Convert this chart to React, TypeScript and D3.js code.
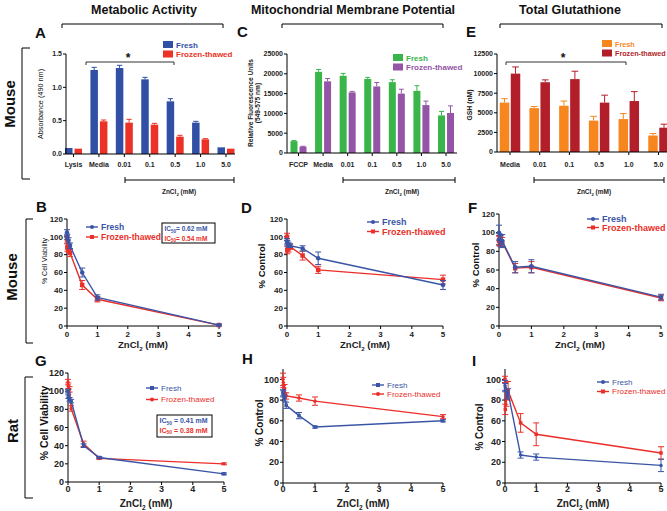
import React from 'react';
import * as d3 from 'd3';

const FONT = "'Liberation Sans', Arial, Helvetica, sans-serif";

// ---------- Row 1 bar data ----------
const aCategories = ['Lysis', 'Media', '0.01', '0.1', '0.5', '1.0', '5.0'];
const aFresh = [0.09, 1.26, 1.29, 1.12, 0.79, 0.47, 0.1];
const aFreshErr = [0, 0.04, 0.04, 0.03, 0.04, 0.02, 0];
const aFrozen = [0.08, 0.49, 0.47, 0.44, 0.26, 0.22, 0.08];
const aFrozenErr = [0, 0.02, 0.05, 0.02, 0.02, 0.01, 0];
const aTicks = [0, 0.5, 1.0, 1.5];

const cCategories = ['FCCP', 'Media', '0.01', '0.1', '0.5', '1.0', '5.0'];
const cFresh = [3000, 20500, 19500, 18700, 17900, 15700, 9500];
const cFreshErr = [150, 600, 600, 400, 600, 1300, 1000];
const cFrozen = [1600, 18100, 15300, 16800, 15000, 12100, 10100];
const cFrozenErr = [100, 700, 250, 1000, 1100, 1000, 1800];
const cTicks = [0, 5000, 10000, 15000, 20000, 25000];

const eCategories = ['Media', '0.01', '0.1', '0.5', '1.0', '5.0'];
const eFresh = [6300, 5600, 5900, 4000, 4200, 2100];
const eFreshErr = [500, 200, 600, 550, 700, 250];
const eFrozen = [10000, 8900, 9300, 6300, 6500, 3100];
const eFrozenErr = [850, 300, 1000, 950, 1200, 450];
const eTicks = [0, 2500, 5000, 7500, 10000, 12500];

// ---------- Dose-response data ----------
const doses = [0, 0.01, 0.05, 0.1, 0.5, 1, 5];
const xTicks = [0, 1, 2, 3, 4, 5];
const yTicks120 = [0, 20, 40, 60, 80, 100, 120];
const yTicks100 = [0, 20, 40, 60, 80, 100];

const bFresh = [105, 100, 96, 90, 60, 32, 1];
const bFreshErr = [3, 3, 3, 3, 5, 3, 1];
const bFrozen = [97, 88, 86, 82, 46, 30, 1];
const bFrozenErr = [4, 4, 4, 4, 5, 3, 1];

const dFresh = [95, 93, 91, 90, 87, 76, 46];
const dFreshErr = [3, 3, 3, 2, 3, 7, 5];
const dFrozen = [100, 85, 87, 89, 79, 63, 52];
const dFrozenErr = [4, 4, 4, 3, 5, 4, 5];

const fFresh = [100, 93, 91, 91, 63, 64, 31];
const fFreshErr = [8, 6, 6, 7, 6, 7, 3];
const fFrozen = [92, 91, 90, 90, 62, 63, 30];
const fFrozenErr = [5, 5, 5, 5, 5, 6, 3];

const gFresh = [100, 94, 91, 89, 40, 27, 9];
const gFreshErr = [2, 2, 2, 2, 2, 1, 1];
const gFrozen = [110, 106, 102, 81, 42, 26, 20];
const gFrozenErr = [3, 3, 3, 3, 3, 1, 1];

const hFresh = [87, 86, 82, 75, 65, 54, 60];
const hFreshErr = [3, 3, 3, 3, 3, 1, 1];
const hFrozen = [100, 97, 91, 84, 82, 79, 64];
const hFrozenErr = [6, 5, 4, 3, 3, 4, 2];

const iFresh = [94, 92, 85, 87, 27, 25, 17];
const iFreshErr = [5, 4, 4, 4, 3, 3, 6];
const iFrozen = [100, 71, 82, 89, 58, 47, 29];
const iFrozenErr = [3, 5, 8, 9, 9, 11, 6];

const seriesNames = ['Fresh', 'Frozen-thawed'];

const BLUE = '#3150A5';
const RED = '#EC3226';
const GREEN = '#3AB54A';
const PURPLE = '#9455A6';
const ORANGE = '#F7861F';
const DARKRED = '#B21F2A';
const LBLUE = '#3A55A6';
const LRED = '#EA2F2A';

type BarSeries = { values: number[]; errors: number[]; color: string };

function BarPanel(props: {
  cats: string[];
  series: BarSeries[];
  centers: [number, number];
  axis: [number, number];
  yPx: [number, number];
  yMax: number;
  ticks: number[];
  fmt: (v: number) => string;
  barW: number;
  gap: number;
  labelY: number;
}) {
  const { cats, series, centers, axis, yPx, yMax, ticks, fmt, barW, gap, labelY } = props;
  const x = d3.scalePoint<string>().domain(cats).range(centers);
  const y = d3.scaleLinear().domain([0, yMax]).range(yPx);
  return (
    <g>
      {cats.map((c, i) => (
        <g key={c}>
          {series.map((s, j) => {
            const cx = x(c)!;
            const bx = j === 0 ? cx - gap / 2 - barW : cx + gap / 2;
            const v = s.values[i];
            const e = s.errors[i];
            const mid = bx + barW / 2;
            return (
              <g key={j}>
                {e > 0 && (
                  <g stroke={s.color} strokeWidth={1}>
                    <line x1={mid} x2={mid} y1={y(v)} y2={y(v + e)} />
                    <line x1={mid - barW * 0.35} x2={mid + barW * 0.35} y1={y(v + e)} y2={y(v + e)} />
                  </g>
                )}
                <rect x={bx} y={y(v)} width={barW} height={y(0) - y(v)} fill={s.color} />
              </g>
            );
          })}
        </g>
      ))}
      <g stroke="#000" strokeWidth={1}>
        <line x1={axis[0]} x2={axis[0]} y1={y(0)} y2={y(yMax)} />
        <line x1={axis[0]} x2={axis[1]} y1={y(0)} y2={y(0)} />
        {ticks.map((t) => (
          <line key={t} x1={axis[0] - 3} x2={axis[0]} y1={y(t)} y2={y(t)} />
        ))}
        {cats.map((c) => (
          <line key={c} x1={x(c)!} x2={x(c)!} y1={y(0)} y2={y(0) + 3} />
        ))}
      </g>
      <g fontSize={7} fontWeight="bold" fill="#222">
        {ticks.map((t) => (
          <text key={t} x={axis[0] - 4} y={y(t)} dy="0.35em" textAnchor="end">
            {fmt(t)}
          </text>
        ))}
        {cats.map((c) => (
          <text key={c} x={x(c)!} y={labelY} textAnchor="middle">
            {c}
          </text>
        ))}
      </g>
    </g>
  );
}

type LineSeries = { values: number[]; errors: number[]; color: string; marker: 'circle' | 'square'; size: number };

function Marker({ shape, x, y, size, color }: { shape: string; x: number; y: number; size: number; color: string }) {
  if (shape === 'square') return <rect x={x - size / 2} y={y - size / 2} width={size} height={size} fill={color} />;
  return <circle cx={x} cy={y} r={size / 2} fill={color} />;
}

function LinePanel(props: {
  xr: [number, number];
  yr: [number, number];
  yMax: number;
  yTicks: number[];
  series: LineSeries[];
  tickFont: number;
  labelY: number;
}) {
  const { xr, yr, yMax, yTicks, series, tickFont, labelY } = props;
  const x = d3.scaleLinear().domain([0, 5]).range(xr);
  const y = d3.scaleLinear().domain([0, yMax]).range(yr);
  const line = d3
    .line<number>()
    .x((_d, i) => x(doses[i]))
    .y((d) => y(d));
  return (
    <g>
      <g stroke="#000" strokeWidth={1}>
        <line x1={xr[0]} x2={xr[0]} y1={y(0)} y2={y(yMax)} />
        <line x1={xr[0]} x2={xr[1]} y1={y(0)} y2={y(0)} />
        {yTicks.map((t) => (
          <line key={t} x1={xr[0] - 3} x2={xr[0]} y1={y(t)} y2={y(t)} />
        ))}
        {xTicks.map((t) => (
          <line key={t} x1={x(t)} x2={x(t)} y1={y(0)} y2={y(0) + 3} />
        ))}
      </g>
      {series.map((s, k) => (
        <g key={k}>
          <path d={line(s.values) || ''} fill="none" stroke={s.color} strokeWidth={1.4} />
          {s.values.map((v, i) => {
            const cx = x(doses[i]);
            const e = s.errors[i];
            return (
              <g key={i}>
                <g stroke={s.color} strokeWidth={1}>
                  <line x1={cx} x2={cx} y1={y(v - e)} y2={y(v + e)} />
                  <line x1={cx - 3} x2={cx + 3} y1={y(v + e)} y2={y(v + e)} />
                  <line x1={cx - 3} x2={cx + 3} y1={y(v - e)} y2={y(v - e)} />
                </g>
                <Marker shape={s.marker} x={cx} y={y(v)} size={s.size} color={s.color} />
              </g>
            );
          })}
        </g>
      ))}
      <g fontSize={tickFont} fontWeight="bold" fill="#222">
        {yTicks.map((t) => (
          <text key={t} x={xr[0] - 4} y={y(t)} dy="0.35em" textAnchor="end">
            {t}
          </text>
        ))}
        {xTicks.map((t) => (
          <text key={t} x={x(t)} y={labelY} textAnchor="middle">
            {t}
          </text>
        ))}
      </g>
    </g>
  );
}

function SquareLegend({ x, y, colors, fontSize }: { x: number; y: number; colors: string[]; fontSize: number }) {
  return (
    <g>
      {seriesNames.map((n, i) => (
        <g key={n}>
          <rect x={x} y={y + i * 9.5} width={10} height={7} fill={colors[i]} />
          <text x={x + 13} y={y + i * 9.5 + 6.5} fontSize={fontSize} fontWeight="bold" fill={colors[i]}>
            {n}
          </text>
        </g>
      ))}
    </g>
  );
}

function LineLegend(props: {
  x: number;
  y: number;
  gapY: number;
  colors: string[];
  markers: string[];
  fontSize: number;
  weight: string;
}) {
  const { x, y, gapY, colors, markers, fontSize, weight } = props;
  return (
    <g>
      {seriesNames.map((n, i) => (
        <g key={n}>
          <line x1={x} x2={x + 12} y1={y + i * gapY} y2={y + i * gapY} stroke={colors[i]} strokeWidth={1.4} />
          <Marker shape={markers[i]} x={x + 6} y={y + i * gapY} size={4} color={colors[i]} />
          <text x={x + 15} y={y + i * gapY} dy="0.35em" fontSize={fontSize} fontWeight={weight} fill={colors[i]}>
            {n}
          </text>
        </g>
      ))}
    </g>
  );
}

function ZnLabel({ x, y, fontSize }: { x: number; y: number; fontSize: number }) {
  return (
    <text x={x} y={y} textAnchor="middle" fontSize={fontSize} fontWeight="bold" fill="#222">
      ZnCl
      <tspan dy={fontSize * 0.3} fontSize={fontSize * 0.65}>
        2
      </tspan>
      <tspan dy={-fontSize * 0.3}> (mM)</tspan>
    </text>
  );
}

function ZnBracket({ x0, x1, y, labelX }: { x0: number; x1: number; y: number; labelX: number }) {
  return (
    <g>
      <g stroke="#000" strokeWidth={1}>
        <line x1={x0} x2={x1} y1={y} y2={y} />
        <line x1={x0} x2={x0} y1={y - 3} y2={y + 3} />
        <line x1={x1} x2={x1} y1={y - 3} y2={y + 3} />
      </g>
      <ZnLabel x={labelX} y={y + 14} fontSize={6.5} />
    </g>
  );
}

function SigBracket({ x0, x1, y, sx }: { x0: number; x1: number; y: number; sx: number }) {
  return (
    <g>
      <path d={`M${x0},${y + 3}V${y}H${x1}V${y + 3}`} fill="none" stroke="#333" strokeWidth={1} />
      <text x={sx} y={y - 0.5} textAnchor="middle" fontSize={12} fontWeight="bold" fill="#111">
        *
      </text>
    </g>
  );
}

function IC50Box(props: { x: number; y: number; w: number; h: number; lines: [string, string][]; fontSize: number }) {
  const { x, y, w, h, lines, fontSize } = props;
  return (
    <g>
      <rect x={x} y={y} width={w} height={h} fill="none" stroke="#000" strokeWidth={1} />
      {lines.map(([val, color], i) => (
        <text key={i} x={x + 2.5} y={y + 8 + i * 9.5} fontSize={fontSize} fontWeight="bold" fill={color}>
          IC
          <tspan dy={1.8} fontSize={fontSize * 0.7}>
            50
          </tspan>
          <tspan dy={-1.8}>{val}</tspan>
        </text>
      ))}
    </g>
  );
}

function VLabel({ x, y, text, fontSize, weight }: { x: number; y: number; text: string; fontSize: number; weight: string }) {
  return (
    <text transform={`translate(${x},${y}) rotate(-90)`} textAnchor="middle" fontSize={fontSize} fontWeight={weight} fill="#111">
      {text}
    </text>
  );
}

export default function App() {
  const f1 = (v: number) => v.toFixed(1);
  const f0 = (v: number) => String(v);
  return (
    <svg
      width={667}
      height={511}
      style={{ position: 'absolute', left: 0, top: 0, background: '#fff', fontFamily: FONT }}
      fontFamily={FONT}
    >
      <rect width={667} height={511} fill="#fff" />
      {/* Headers */}
      <g fontSize={12.5} fontWeight="bold" fill="#111" textAnchor="middle">
        <text x={144} y={14}>Metabolic Activity</text>
        <text x={353} y={14}>Mitochondrial Membrane Potential</text>
        <text x={570} y={14}>Total Glutathione</text>
      </g>
      <g fill="none" stroke="#000" strokeWidth={1}>
        <path d="M62,28V24H223V28" />
        <path d="M282,28V24H443V28" />
        <path d="M500,28V24H662V28" />
        {/* row brackets */}
        <path d="M30,48H22V179H30" />
        <path d="M33,219H26V343H33" />
        <path d="M33,377H25V498H33" />
      </g>
      {/* Row labels */}
      <VLabel x={15} y={104} text="Mouse" fontSize={15} weight="bold" />
      <VLabel x={17} y={277} text="Mouse" fontSize={15} weight="bold" />
      <VLabel x={18} y={431} text="Rat" fontSize={15} weight="bold" />

      {/* Panel letters */}
      <g fontSize={15} fontWeight="bold" fill="#111">
        <text x={35} y={38}>A</text>
        <text x={237} y={37}>C</text>
        <text x={466} y={37}>E</text>
        <text x={36} y={212}>B</text>
        <text x={241} y={213}>D</text>
        <text x={468} y={213}>F</text>
        <text x={35} y={366}>G</text>
        <text x={242} y={364}>H</text>
        <text x={472} y={366}>I</text>
      </g>

      {/* Panel A */}
      <BarPanel
        cats={aCategories}
        series={[
          { values: aFresh, errors: aFreshErr, color: BLUE },
          { values: aFrozen, errors: aFrozenErr, color: RED },
        ]}
        centers={[73.5, 226]}
        axis={[66, 235]}
        yPx={[154, 54]}
        yMax={1.5}
        ticks={aTicks}
        fmt={f1}
        barW={7.5}
        gap={2}
        labelY={167}
      />
      <VLabel x={43} y={104} text="Absorbance (490 nm)" fontSize={7.3} weight="normal" />
      <SquareLegend x={163} y={41} colors={[BLUE, RED]} fontSize={8} />
      <SigBracket x0={86} x1={174} y={62} sx={128} />
      <ZnBracket x0={125} x1={234} y={180} labelX={179} />

      {/* Panel C */}
      <BarPanel
        cats={cCategories}
        series={[
          { values: cFresh, errors: cFreshErr, color: GREEN },
          { values: cFrozen, errors: cFrozenErr, color: PURPLE },
        ]}
        centers={[298.5, 446]}
        axis={[287, 457]}
        yPx={[153, 54]}
        yMax={25000}
        ticks={cTicks}
        fmt={f0}
        barW={7}
        gap={2}
        labelY={167}
      />
      <text transform="translate(253,103) rotate(-90)" textAnchor="middle" fontSize={6.6} fontWeight="bold" fill="#222">
        Relative Fluorescence Units
      </text>
      <text transform="translate(260,103) rotate(-90)" textAnchor="middle" fontSize={6.6} fontWeight="bold" fill="#222">
        (549-575 nm)
      </text>
      <SquareLegend x={393} y={54} colors={[GREEN, PURPLE]} fontSize={8} />
      <ZnBracket x0={343} x1={455} y={180} labelX={402} />

      {/* Panel E */}
      <BarPanel
        cats={eCategories}
        series={[
          { values: eFresh, errors: eFreshErr, color: ORANGE },
          { values: eFrozen, errors: eFrozenErr, color: DARKRED },
        ]}
        centers={[510, 658.5]}
        axis={[497, 669]}
        yPx={[152, 54]}
        yMax={12500}
        ticks={eTicks}
        fmt={f0}
        barW={9.5}
        gap={1.5}
        labelY={167}
      />
      <VLabel x={472} y={105} text="GSH (nM)" fontSize={6.8} weight="bold" />
      <SquareLegend x={602} y={40} colors={[ORANGE, DARKRED]} fontSize={7.2} />
      <SigBracket x0={506} x1={626} y={62} sx={563} />
      <ZnBracket x0={534} x1={664} y={180} labelX={594} />

      {/* Panel B */}
      <LinePanel
        xr={[67, 219]}
        yr={[326, 219]}
        yMax={120}
        yTicks={yTicks120}
        tickFont={8}
        labelY={337}
        series={[
          { values: bFrozen, errors: bFrozenErr, color: LRED, marker: 'square', size: 4.5 },
          { values: bFresh, errors: bFreshErr, color: LBLUE, marker: 'circle', size: 4.5 },
        ]}
      />
      <VLabel x={47} y={261} text="% Cell Viability" fontSize={7} weight="normal" />
      <ZnLabel x={143} y={348} fontSize={9.5} />
      <LineLegend x={86} y={227} gapY={10} colors={[LBLUE, LRED]} markers={['circle', 'square']} fontSize={8.5} weight="bold" />
      <IC50Box
        x={162}
        y={223}
        w={53}
        h={20}
        fontSize={6.5}
        lines={[
          ['= 0.62 mM', LBLUE],
          ['= 0.54 mM', LRED],
        ]}
      />

      {/* Panel D */}
      <LinePanel
        xr={[287, 443]}
        yr={[326, 219]}
        yMax={120}
        yTicks={yTicks120}
        tickFont={8}
        labelY={337}
        series={[
          { values: dFrozen, errors: dFrozenErr, color: LRED, marker: 'square', size: 4.5 },
          { values: dFresh, errors: dFreshErr, color: LBLUE, marker: 'circle', size: 4.5 },
        ]}
      />
      <VLabel x={265} y={266} text="% Control" fontSize={9.5} weight="bold" />
      <ZnLabel x={365} y={348} fontSize={9.5} />
      <LineLegend x={367} y={222} gapY={9.5} colors={[LBLUE, LRED]} markers={['circle', 'square']} fontSize={9} weight="bold" />

      {/* Panel F */}
      <LinePanel
        xr={[499, 661]}
        yr={[326, 214]}
        yMax={120}
        yTicks={yTicks120}
        tickFont={8}
        labelY={337}
        series={[
          { values: fFrozen, errors: fFrozenErr, color: LRED, marker: 'square', size: 4.5 },
          { values: fFresh, errors: fFreshErr, color: LBLUE, marker: 'circle', size: 4.5 },
        ]}
      />
      <VLabel x={479} y={265} text="% Control" fontSize={9.5} weight="bold" />
      <ZnLabel x={580} y={348} fontSize={9.5} />
      <LineLegend x={587} y={219} gapY={8.5} colors={[LBLUE, LRED]} markers={['circle', 'square']} fontSize={9} weight="bold" />

      {/* Panel G */}
      <LinePanel
        xr={[68, 224]}
        yr={[482, 373]}
        yMax={120}
        yTicks={yTicks120}
        tickFont={9}
        labelY={492}
        series={[
          { values: gFrozen, errors: gFrozenErr, color: LRED, marker: 'circle', size: 3.5 },
          { values: gFresh, errors: gFreshErr, color: LBLUE, marker: 'square', size: 3.5 },
        ]}
      />
      <VLabel x={48} y={423} text="% Cell Viability" fontSize={10.5} weight="bold" />
      <ZnLabel x={146} y={507} fontSize={10} />
      <LineLegend x={146} y={388} gapY={11.5} colors={[LBLUE, LRED]} markers={['square', 'circle']} fontSize={8} weight="normal" />
      <IC50Box
        x={157}
        y={415}
        w={55}
        h={22}
        fontSize={7}
        lines={[
          [' = 0.41 mM', LBLUE],
          [' = 0.38 mM', LRED],
        ]}
      />

      {/* Panel H */}
      <LinePanel
        xr={[283, 443]}
        yr={[483, 369]}
        yMax={110}
        yTicks={yTicks100}
        tickFont={9}
        labelY={492}
        series={[
          { values: hFrozen, errors: hFrozenErr, color: LRED, marker: 'circle', size: 3.5 },
          { values: hFresh, errors: hFreshErr, color: LBLUE, marker: 'square', size: 3.5 },
        ]}
      />
      <VLabel x={263} y={423} text="% Control" fontSize={10} weight="bold" />
      <ZnLabel x={363} y={507} fontSize={10} />
      <LineLegend x={372} y={385} gapY={9} colors={[LBLUE, LRED]} markers={['square', 'circle']} fontSize={8} weight="normal" />

      {/* Panel I */}
      <LinePanel
        xr={[505, 661]}
        yr={[483, 369]}
        yMax={110}
        yTicks={yTicks100}
        tickFont={9}
        labelY={492}
        series={[
          { values: iFrozen, errors: iFrozenErr, color: LRED, marker: 'square', size: 3.5 },
          { values: iFresh, errors: iFreshErr, color: LBLUE, marker: 'circle', size: 3.5 },
        ]}
      />
      <VLabel x={483} y={427} text="% Control" fontSize={10} weight="bold" />
      <ZnLabel x={583} y={507} fontSize={10} />
      <LineLegend x={597} y={382} gapY={9.5} colors={[LBLUE, LRED]} markers={['circle', 'square']} fontSize={8} weight="normal" />
    </svg>
  );
}
